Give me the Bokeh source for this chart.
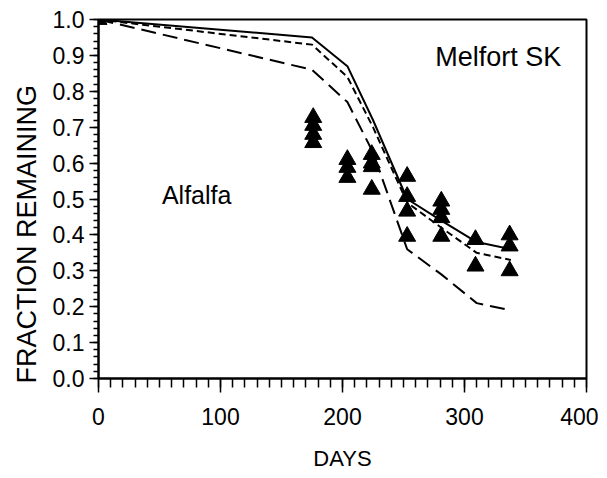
from bokeh.plotting import figure
from bokeh.models import SingleIntervalTicker, Range1d, Label, Title, CustomJSTickFormatter
from bokeh.embed import file_html
from bokeh.resources import INLINE

# ---- data ----
model_days = [0, 175, 204, 225, 253, 281, 310, 338]
solid_vals = [1.0, 0.95, 0.87, 0.72, 0.50, 0.44, 0.38, 0.36]
short_dash_vals = [1.0, 0.93, 0.84, 0.70, 0.49, 0.42, 0.35, 0.33]
long_dash_vals = [1.0, 0.86, 0.77, 0.63, 0.36, 0.29, 0.21, 0.19]

obs_days = [0, 176, 176, 176, 176, 204, 204, 204, 224, 224, 224, 224,
            253, 253, 253, 253, 281, 281, 281, 281, 309, 309, 337, 337, 337]
obs_vals = [1.0, 0.727, 0.705, 0.68, 0.657, 0.61, 0.588, 0.56, 0.624, 0.60, 0.59, 0.527,
            0.563, 0.507, 0.466, 0.396, 0.494, 0.471, 0.448, 0.396, 0.387, 0.313, 0.40, 0.369, 0.30]

FONT = "Liberation Sans"

p = figure(width=598, height=473, output_backend="svg", toolbar_location=None,
           x_range=Range1d(0, 400), y_range=Range1d(0, 1.0),
           frame_width=488, frame_height=359,
           min_border_left=98, min_border_right=12, min_border_top=19, min_border_bottom=95)

p.xgrid.visible = False
p.ygrid.visible = False
p.outline_line_color = "black"
p.outline_line_width = 2
p.background_fill_color = "white"
p.border_fill_color = "white"

p.xaxis.ticker = SingleIntervalTicker(interval=100, num_minor_ticks=10)
p.yaxis.ticker = SingleIntervalTicker(interval=0.1, num_minor_ticks=5)
p.yaxis.formatter = CustomJSTickFormatter(code="return tick.toFixed(1);")

for ax in (p.xaxis, p.yaxis):
    ax.axis_line_width = 2
    ax.axis_line_color = "black"
    ax.major_tick_line_width = 1.5
    ax.minor_tick_line_width = 1.5
    ax.major_tick_in = 0
    ax.minor_tick_in = 0
    ax.major_label_text_font = FONT
    ax.major_label_text_font_size = "23px"
    ax.major_label_text_color = "black"
    ax.axis_label_text_font = FONT
    ax.axis_label_text_font_style = "normal"
    ax.axis_label_text_color = "black"

p.xaxis.major_tick_out = 14
p.xaxis.minor_tick_out = 9
p.xaxis.major_label_standoff = 15
p.xaxis.axis_label = "DAYS"
p.xaxis.axis_label_text_font_size = "22px"
p.xaxis.axis_label_standoff = 18

p.yaxis.major_tick_out = 9
p.yaxis.minor_tick_out = 5
p.yaxis.major_label_standoff = 5

ytitle = Title(text="FRACTION REMAINING", text_font=FONT, text_font_size="27px",
               text_font_style="normal", text_color="black", align="left", offset=-5,
               standoff=12, vertical_align="top")
p.add_layout(ytitle, "left")

p.line(model_days, solid_vals, line_color="black", line_width=2)
p.line(model_days, short_dash_vals, line_color="black", line_width=2, line_dash="7 4")
p.line(model_days, long_dash_vals, line_color="black", line_width=2, line_dash="15 7")

p.scatter(obs_days, obs_vals, marker="triangle", size=17, fill_color="black", line_color="black")

p.add_layout(Label(x=276, y=0.895, text="Melfort SK", text_font=FONT, text_font_size="27px",
                   text_color="black", text_baseline="alphabetic", text_align="left"))
p.add_layout(Label(x=52, y=0.51, text="Alfalfa", text_font=FONT, text_font_size="25px",
                   text_color="black", text_baseline="alphabetic", text_align="left"))

open("out.html", "w").write(file_html(p, INLINE))
